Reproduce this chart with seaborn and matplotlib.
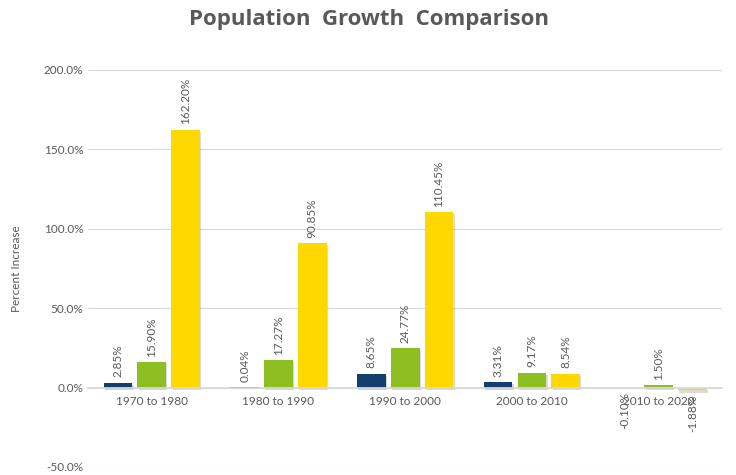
import numpy as np
import pandas as pd
import matplotlib
matplotlib.use("Agg")
import matplotlib.pyplot as plt
import matplotlib.patheffects as pe
from matplotlib.ticker import FuncFormatter
import seaborn as sns

periods = ["1970 to 1980", "1980 to 1990", "1990 to 2000", "2000 to 2010", "2010 to 2020"]
series_names = ["Series 1", "Series 2", "Series 3"]
series_1 = [2.85, 0.04, 8.65, 3.31, -0.10]
series_2 = [15.90, 17.27, 24.77, 9.17, 1.50]
series_3 = [162.20, 90.85, 110.45, 8.54, -1.88]
colors = ["#133F6E", "#8DBE22", "#FFD800"]

df = pd.DataFrame({
    "period": periods * 3,
    "series": np.repeat(series_names, len(periods)),
    "value": series_1 + series_2 + series_3,
})

sns.set_theme(style="white")
plt.rcParams['font.family'] = ['Lato', 'DejaVu Sans']

fig = plt.figure(figsize=(7.36, 4.75), dpi=100)
ax = fig.add_axes([0.12, 0.017, 0.861, 0.836])

sns.barplot(data=df, x="period", y="value", hue="series", palette=colors,
            width=0.8, gap=0.15, legend=False, ax=ax, saturation=1)

shadow = [pe.SimplePatchShadow(offset=(1, -1.5), alpha=0.18), pe.Normal()]
for patch in ax.patches:
    patch.set_path_effects(shadow)
    patch.set_linewidth(0)

txt_color = "#595959"
for cont in ax.containers:
    for bar, v in zip(cont, cont.datavalues):
        x = bar.get_x() + bar.get_width() / 2
        if v >= 0:
            ax.annotate(f"{v:.2f}%", (x, v), xytext=(0, 4), textcoords="offset points",
                        rotation=90, ha="center", va="bottom", fontsize=8.5, color=txt_color)
        else:
            ax.annotate(f"{v:.2f}%", (x, v), xytext=(0, -3), textcoords="offset points",
                        rotation=90, ha="center", va="top", fontsize=8.5, color=txt_color)

ax.set_ylim(-50, 200)
ax.set_xlim(-0.5, 4.5)
ax.set_yticks([-50, 0, 50, 100, 150, 200])
ax.yaxis.set_major_formatter(FuncFormatter(lambda v, p: f"{v:.1f}%"))
ax.grid(axis="y", color="#D9D9D9", linewidth=0.8)
ax.set_axisbelow(True)
for s in ["top", "right", "left"]:
    ax.spines[s].set_visible(False)
ax.spines["bottom"].set_position(("data", 0))
ax.spines["bottom"].set_color("#D9D9D9")
ax.tick_params(axis="both", length=0, labelsize=8.5, colors=txt_color)
ax.tick_params(axis="x", pad=6)
ax.set_xlabel("")
ax.set_ylabel("Percent Increase", fontsize=8.5, color=txt_color, labelpad=16)

fig.suptitle("Population  Growth  Comparison", x=0.502, y=0.982, fontsize=16,
             fontweight="bold", color=txt_color, family=["Open Sans", "DejaVu Sans"])

fig.savefig("out.png", dpi=100)
